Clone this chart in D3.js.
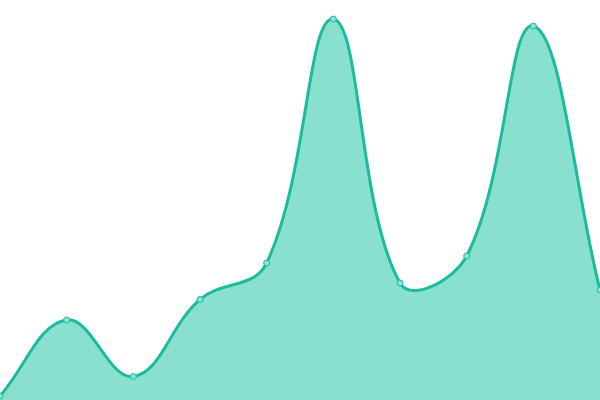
<!DOCTYPE html>
<html>
<head>
<meta charset="utf-8">
<script src="https://cdn.jsdelivr.net/npm/d3@7"></script>
<style>
  html, body { margin: 0; padding: 0; background: #fff; }
  svg { display: block; }
</style>
</head>
<body>
<div id="chart"></div>
<script>
// Values (bottom edge = 0)
const labels = [0, 1, 2, 3, 4, 5, 6, 7, 8, 9];
const values = [4, 80, 23.5, 100.5, 137, 381, 117, 144, 374, 110];

const width = 600;
const height = 400;
const TENSION = 0.4;

const x = d3.scalePoint().domain(labels).range([0, width]);
const y = d3.scaleLinear().domain([0, 400]).range([height, 0]);

// Distance-weighted spline: control points scaled by neighbour distances
function curveSpline(context) {
  return {
    areaStart() { this._line = 0; },
    areaEnd() { this._line = NaN; },
    lineStart() { this._pts = []; },
    point(px, py) { this._pts.push([+px, +py]); },
    lineEnd() {
      const p = this._pts;
      const n = p.length;
      if (n) {
        if (this._line) context.lineTo(p[0][0], p[0][1]);
        else context.moveTo(p[0][0], p[0][1]);
        const cps = p.map((cur, i) => {
          const prev = p[i - 1] || cur;
          const next = p[i + 1] || cur;
          const d01 = Math.hypot(cur[0] - prev[0], cur[1] - prev[1]);
          const d12 = Math.hypot(next[0] - cur[0], next[1] - cur[1]);
          let s01 = d01 / (d01 + d12);
          let s12 = d12 / (d01 + d12);
          if (isNaN(s01)) s01 = 0;
          if (isNaN(s12)) s12 = 0;
          const fa = TENSION * s01;
          const fb = TENSION * s12;
          return {
            prev: [cur[0] - fa * (next[0] - prev[0]), cur[1] - fa * (next[1] - prev[1])],
            next: [cur[0] + fb * (next[0] - prev[0]), cur[1] + fb * (next[1] - prev[1])],
          };
        });
        for (let i = 0; i < n - 1; i++) {
          const a = cps[i].next;
          const b = cps[i + 1].prev;
          context.bezierCurveTo(a[0], a[1], b[0], b[1], p[i + 1][0], p[i + 1][1]);
        }
      }
      if (this._line || (this._line !== 0 && n === 1)) context.closePath();
      this._line = 1 - this._line;
    },
  };
}

const svg = d3
  .select("#chart")
  .append("svg")
  .attr("width", width)
  .attr("height", height);

const data = d3.zip(labels, values);

const area = d3
  .area()
  .curve(curveSpline)
  .x(([l]) => x(l))
  .y0(y(0))
  .y1(([, v]) => y(v));

const line = d3
  .line()
  .curve(curveSpline)
  .x(([l]) => x(l))
  .y(([, v]) => y(v));

svg
  .append("path")
  .attr("d", area(data))
  .attr("fill", "#16c29f")
  .attr("fill-opacity", 0.5);

svg
  .append("path")
  .attr("d", line(data))
  .attr("fill", "none")
  .attr("stroke", "#1abc9c")
  .attr("stroke-width", 3);

// Point markers
svg
  .append("g")
  .selectAll("circle")
  .data(data)
  .join("circle")
  .attr("cx", ([l]) => x(l))
  .attr("cy", ([, v]) => y(v))
  .attr("r", 3)
  .attr("fill", "#8ce0cf")
  .attr("stroke", "#1abc9c")
  .attr("stroke-width", 1);
</script>
</body>
</html>
